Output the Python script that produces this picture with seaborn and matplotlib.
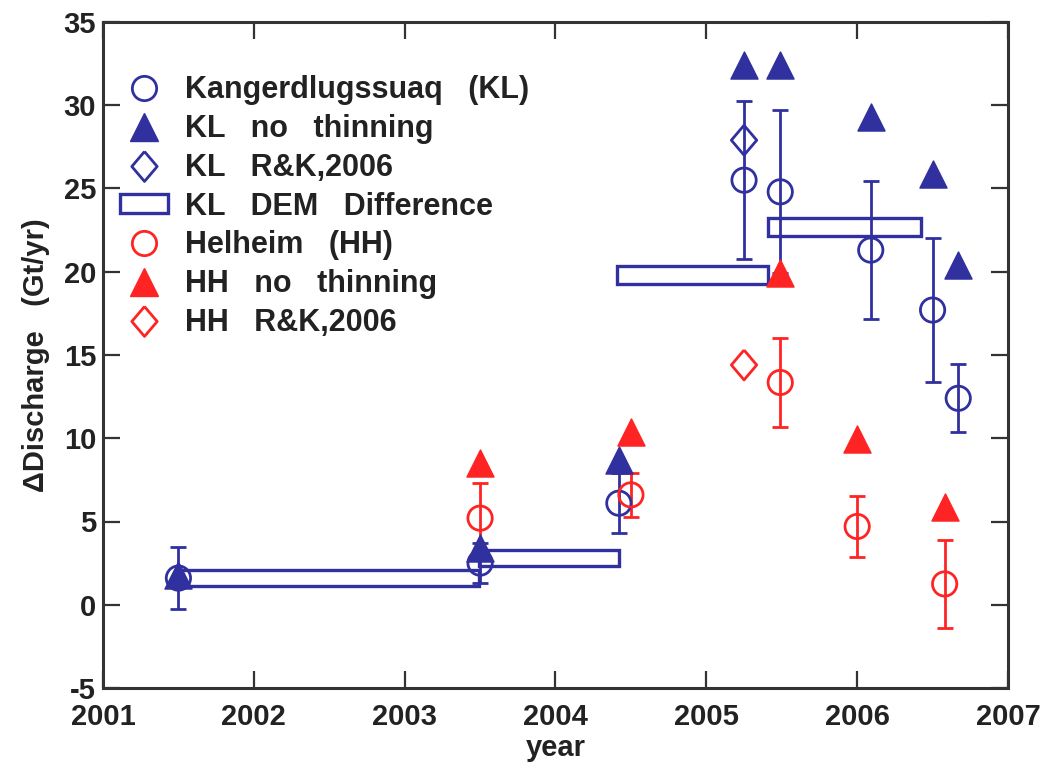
import numpy as np
import pandas as pd
import matplotlib
matplotlib.use("Agg")
import matplotlib.pyplot as plt
import matplotlib.patches as mpatches
from matplotlib.lines import Line2D
import seaborn as sns

# ---------------- data ----------------
kl_year = [2001.50, 2003.50, 2004.42, 2005.25, 2005.49, 2006.09, 2006.50, 2006.67]
kl_discharge = [1.6, 2.5, 6.1, 25.5, 24.8, 21.3, 17.7, 12.4]
kl_err = [1.85, 1.2, 1.8, 4.75, 4.9, 4.15, 4.35, 2.05]
kl_no_thinning = [1.8, 3.4, 8.7, 32.4, 32.4, 29.3, 25.9, 20.4]
kl_rk_year = [2005.25]
kl_rk = [27.9]

dem_start = [2001.49, 2003.49, 2004.41, 2005.41]
dem_end = [2003.49, 2004.42, 2005.41, 2006.42]
dem_mid = [1.6, 2.8, 19.8, 22.7]
dem_half = [0.5, 0.5, 0.52, 0.53]

hh_year = [2003.50, 2004.50, 2005.49, 2006.00, 2006.58]
hh_discharge = [5.2, 6.6, 13.35, 4.7, 1.25]
hh_err = [2.1, 1.3, 2.7, 1.85, 2.65]
hh_no_thinning = [8.5, 10.4, 19.9, 9.95, 5.85]
hh_rk_year = [2005.25]
hh_rk = [14.4]

x_ticks = [2001, 2002, 2003, 2004, 2005, 2006, 2007]
y_ticks = [-5, 0, 5, 10, 15, 20, 25, 30, 35]
legend_labels = ["Kangerdlugssuaq   (KL)", "KL   no   thinning", "KL   R&K,2006",
                 "KL   DEM   Difference", "Helheim   (HH)", "HH   no   thinning",
                 "HH   R&K,2006"]
x_label = "year"
y_label = "\u0394Discharge   (Gt/yr)"

# ---------------- style ----------------
sns.set_style("ticks")
plt.rcParams["font.family"] = ["Liberation Sans", "DejaVu Sans"]
plt.rcParams["font.weight"] = "bold"
plt.rcParams["axes.labelweight"] = "bold"
TXT = "#222222"
BLUE = "#30309E"
RED = "#FF2424"

ms_circle = 17.5
ms_tri = 19.5
ms_dia = 21.5
diamond = [(0, 1), (0.85, 0), (0, -1), (-0.85, 0), (0, 1)]

fig = plt.figure(figsize=(10.64, 7.67), dpi=100)
ax = fig.add_axes([103 / 1064, 1 - 688 / 767, 905 / 1064, 666 / 767])

# DEM difference rectangles
widths = np.array(dem_end) - np.array(dem_start)
ax.bar(dem_start, height=2 * np.array(dem_half), width=widths,
       bottom=np.array(dem_mid) - np.array(dem_half), align="edge",
       fill=False, edgecolor=BLUE, linewidth=2.4, zorder=2)

# error bars
ax.errorbar(kl_year, kl_discharge, yerr=kl_err, fmt="none", ecolor=BLUE,
            elinewidth=2.0, capsize=6, capthick=2.0, zorder=3)
ax.errorbar(hh_year, hh_discharge, yerr=hh_err, fmt="none", ecolor=RED,
            elinewidth=2.0, capsize=6, capthick=2.0, zorder=3)

# markers
sns.scatterplot(x=kl_year, y=kl_no_thinning, marker="^", s=ms_tri ** 2,
                color=BLUE, edgecolor=BLUE, linewidth=1, ax=ax, zorder=4, legend=False)
sns.scatterplot(x=kl_year, y=kl_discharge, marker="o", s=ms_circle ** 2,
                color=BLUE, facecolor="none", edgecolor=BLUE, linewidth=2.0,
                ax=ax, zorder=5, legend=False)
sns.scatterplot(x=kl_rk_year, y=kl_rk, marker=diamond, s=ms_dia ** 2,
                color=BLUE, facecolor="none", edgecolor=BLUE, linewidth=2.0,
                ax=ax, zorder=5, legend=False)
sns.scatterplot(x=hh_year, y=hh_no_thinning, marker="^", s=ms_tri ** 2,
                color=RED, edgecolor=RED, linewidth=1, ax=ax, zorder=4, legend=False)
sns.scatterplot(x=hh_year, y=hh_discharge, marker="o", s=ms_circle ** 2,
                color=RED, facecolor="none", edgecolor=RED, linewidth=2.0,
                ax=ax, zorder=5, legend=False)
sns.scatterplot(x=hh_rk_year, y=hh_rk, marker=diamond, s=ms_dia ** 2,
                color=RED, facecolor="none", edgecolor=RED, linewidth=2.0,
                ax=ax, zorder=5, legend=False)

# axes
ax.set_xlim(2001, 2007)
ax.set_ylim(-5, 35)
ax.set_xticks(x_ticks)
ax.set_yticks(y_ticks)
ax.set_xticklabels([str(t) for t in x_ticks])
ax.set_yticklabels([str(t) for t in y_ticks])
ax.tick_params(direction="in", length=12, width=1.6, top=True, right=True,
               labelsize=21, colors="#333333", labelcolor=TXT)
ax.tick_params(axis="x", pad=11)
ax.tick_params(axis="y", pad=5)
for s in ax.spines.values():
    s.set_linewidth(2.2)
    s.set_color("#333333")
ax.set_xlabel(x_label, fontsize=21, color=TXT, labelpad=2)
ax.set_ylabel(y_label, fontsize=21, color=TXT, labelpad=10)

# legend
handles = [
    Line2D([], [], ls="none", marker="o", ms=ms_circle, mfc="none", mec=BLUE, mew=2.0),
    Line2D([], [], ls="none", marker="^", ms=ms_tri, mfc=BLUE, mec=BLUE, mew=1),
    Line2D([], [], ls="none", marker=diamond, ms=ms_dia, mfc="none", mec=BLUE, mew=2.0),
    mpatches.Patch(facecolor="none", edgecolor=BLUE, linewidth=2.4),
    Line2D([], [], ls="none", marker="o", ms=ms_circle, mfc="none", mec=RED, mew=2.0),
    Line2D([], [], ls="none", marker="^", ms=ms_tri, mfc=RED, mec=RED, mew=1),
    Line2D([], [], ls="none", marker=diamond, ms=ms_dia, mfc="none", mec=RED, mew=2.0),
]
leg = ax.legend(handles, legend_labels, loc="upper left",
                bbox_to_anchor=(120 / 1064, 1 - 75 / 767), bbox_transform=fig.transFigure,
                frameon=False, fontsize=22, borderpad=0, borderaxespad=0,
                handlelength=1.57, handleheight=0.56, handletextpad=0.56,
                labelspacing=0.29)
for t in leg.get_texts():
    t.set_color(TXT)

fig.savefig("out.png", dpi=100, facecolor="white")
